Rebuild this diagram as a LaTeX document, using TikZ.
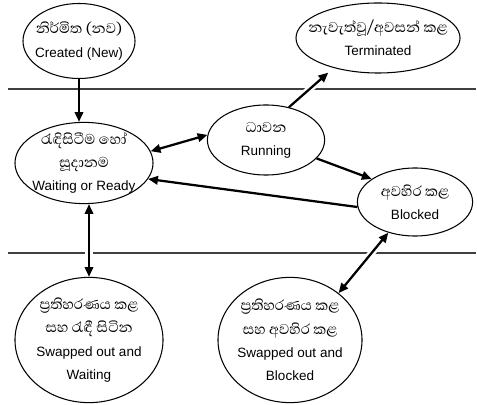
\documentclass[tikz,border=0pt]{standalone}
\usepackage{fontspec}
\setmainfont{Liberation Sans}
\newfontfamily\sinhfont[Script=Sinhala, Scale=1.35]{Abhaya Libre}
\usetikzlibrary{shapes.geometric}
\usetikzlibrary{arrows.meta}

\begin{document}
\begin{tikzpicture}
	[
		x = 0.025cm, y = -0.025cm,
		proc/.style = {ellipse, draw = black, line width = 0.75pt, inner xsep = -12pt, inner ysep = -5pt, align = center, font = \fontsize{9.6}{16.5}\selectfont},
		arr/.style = {-{Triangle[length = 7pt, width = 6pt]}, line width = 1.6pt, preaction = {draw = white, line width = 5pt, arrows = -, shorten <=8pt, shorten >=8pt}},
		biarr/.style = {arr, {Triangle[length = 7pt, width = 6pt]}-{Triangle[length = 7pt, width = 6pt]}},
		sep/.style = {draw = black!75, line width = 0.8pt},
	]
	\useasboundingbox (0,0) rectangle (477,405);
	% separators
	\draw [sep] (8,89) -- (476,89);
	\draw [sep] (8,253) -- (476,253);
	% states
	\node (created) [proc, minimum width = 2.8cm, minimum height = 1.875cm] at (79,41) {{\sinhfont නිර්මිත (නව)}\\Created (New)};
	\node (terminated) [proc, minimum width = 4.1cm, minimum height = 1.75cm] at (378,38) {{\sinhfont නැවැත්වූ/අවසන් කළ}\\Terminated};
	\node (waiting) [proc, minimum width = 3.45cm, minimum height = 2.03cm] at (84,163) {{\sinhfont රැඳිසිටීම හෝ}\\{\sinhfont සූදානම}\\Waiting or Ready};
	\node (running) [proc, minimum width = 2.93cm, minimum height = 1.75cm] at (266,140) {{\sinhfont ධාවන}\\Running};
	\node (blocked) [proc, minimum width = 2.88cm, minimum height = 1.7cm] at (415,202) {{\sinhfont අවහිර කළ}\\Blocked};
	\node (swapwait) [proc, minimum width = 3.7cm, minimum height = 3.13cm] at (89,340) {{\sinhfont ප්^^^^200dරතිහරණය කළ}\\{\sinhfont සහ රැඳී සිටින}\\Swapped out and\\Waiting};
	\node (swapblock) [proc, minimum width = 3.6cm, minimum height = 3.13cm] at (290,340) {{\sinhfont ප්^^^^200dරතිහරණය කළ}\\{\sinhfont සහ අවහිර කළ}\\Swapped out and\\Blocked};
	% transitions
	\draw [arr] (created.south) -- (created.south |- waiting.north);
	\draw [biarr] (waiting.10) -- (running.175);
	\draw [arr, shorten >=5pt] (running.55) -- (terminated.214);
	\draw [arr] (running.-20) -- (blocked.152);
	\draw [arr] (blocked.185) -- (waiting.-14);
	\draw [biarr] (waiting.south -| swapwait.north) -- (swapwait.north);
	\draw [biarr] (blocked.229) -- (swapblock.44);
\end{tikzpicture}
\end{document}
